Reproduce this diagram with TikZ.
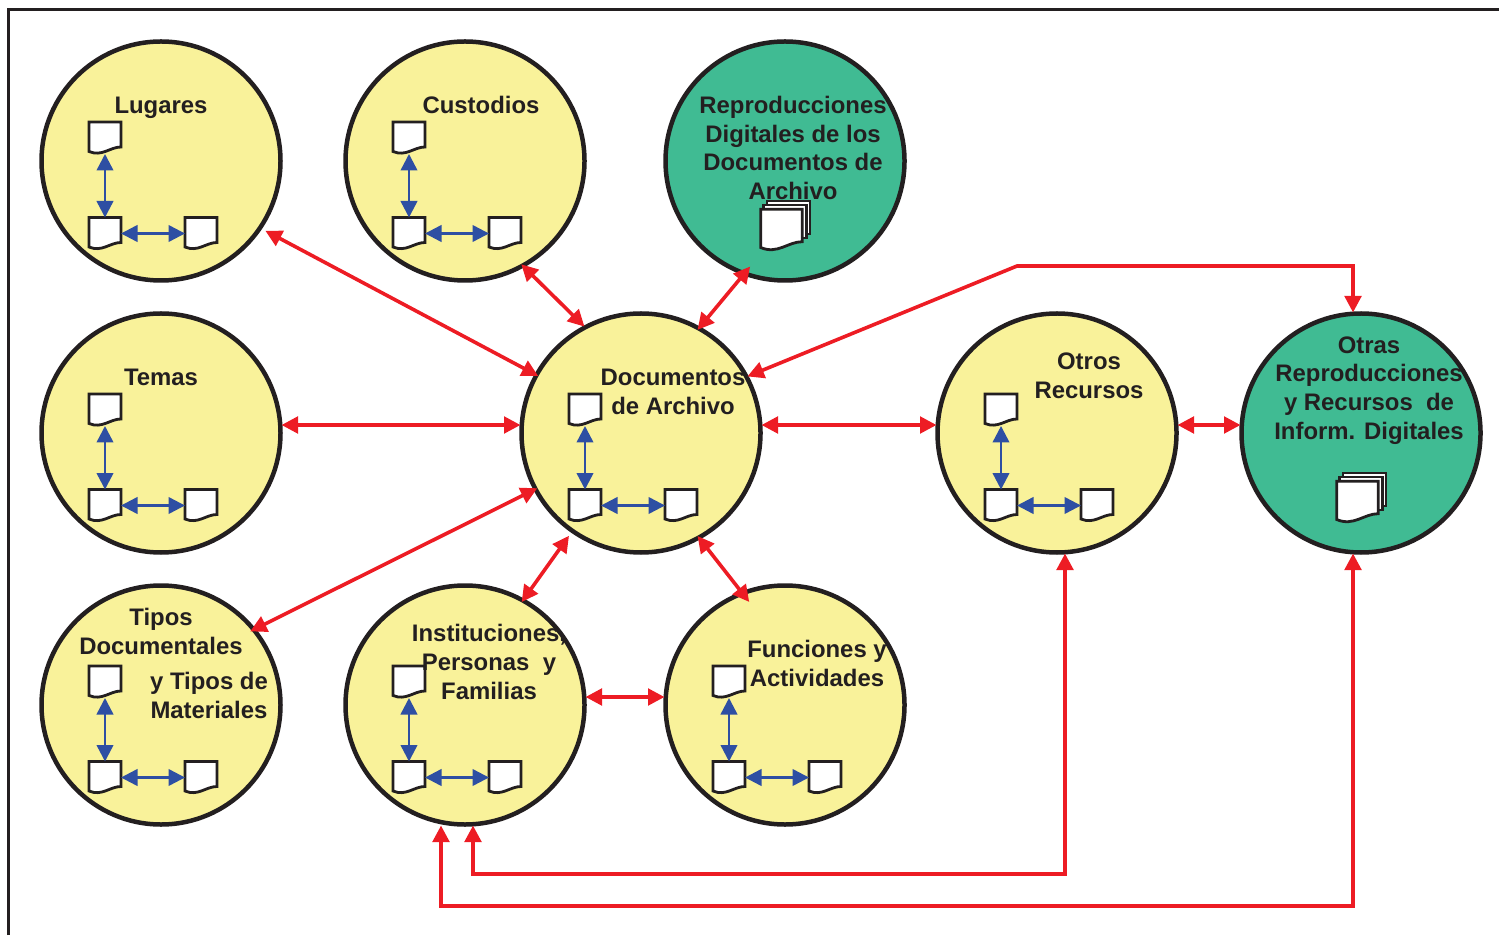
\documentclass[tikz,border=0pt]{standalone}
\usepackage{fontspec}
\setmainfont{Liberation Sans}
\usepackage{xcolor}
\usetikzlibrary{calc, arrows.meta}
\definecolor{circleyellow}{HTML}{F9F29A}
\definecolor{circlegreen}{HTML}{40BB93}
\definecolor{linkred}{HTML}{ED1C24}
\definecolor{linkblue}{HTML}{2E4FA3}
\definecolor{inkblack}{HTML}{231F20}
\tikzset{
    topic/.style = {circle, draw=inkblack, line width=.045cm, fill=circleyellow, minimum size=2.39cm, inner sep=0pt, outer sep=.01cm},
    repro/.style = {topic, fill=circlegreen},
    docnode/.style = {inner sep=0pt, outer sep=0pt},
    docline/.style = {draw=inkblack, fill=white, line width=.028cm, line join=miter},
    stackbox/.style = {docline, minimum width=.43cm, minimum height=.33cm, inner sep=0pt},
    bluelink/.style = {draw=linkblue, line width=.025cm, {Triangle[length=.165cm,width=.165cm]}-{Triangle[length=.165cm,width=.165cm]}},
    redlink/.style = {draw=linkred, line width=.036cm, line join=miter, {Triangle[length=.165cm,width=.165cm]}-{Triangle[length=.165cm,width=.165cm]}},
    caption/.style = {align=center, inner sep=0pt, text=inkblack, font=\fontsize{6.8}{8.2}\selectfont\bfseries}
}
% one sheet: name, position, size factor
\newcommand{\docsheet}[3]{
    \node [docnode, minimum width=.32cm*#3, minimum height=.32cm*#3] (#1) at (#2) {};
    \draw [docline] (#1.north west) -- (#1.north east) -- ($(#1.south east)+(0,.07*#3)$)
        .. controls ($(#1.south)+(.05*#3,.07*#3)$) and ($(#1.south)+(-.03*#3,-.03*#3)$) .. ($(#1.south west)+(0,.025*#3)$) -- cycle;
}
% three sheets with their links
\newcommand{\docgroup}[1]{
    \docsheet{#1top}{$(#1)+(-.56,.23)$}{1}
    \docsheet{#1left}{$(#1)+(-.56,-.725)$}{1}
    \docsheet{#1right}{$(#1)+(.40,-.725)$}{1}
    \draw [bluelink] (#1top.south) -- (#1left.north);
    \draw [bluelink] (#1left.east) -- (#1right.west);
}
% pile of sheets
\newcommand{\docstack}[1]{
    \node [stackbox] (#1back) at ($(#1)+(.035,-.565)$) {};
    \node [stackbox] (#1mid) at ($(#1)+(0,-.605)$) {};
    \docsheet{#1front}{$(#1)+(-.035,-.69)$}{1.3}
}

\begin{document}
\begin{tikzpicture}
    \useasboundingbox (0,0) rectangle (14.99,9.35);

    \coordinate (frameA) at (.09,0);
    \coordinate (frameB) at (.09,9.25);
    \coordinate (frameC) at (14.99,9.25);
    \draw [draw=inkblack, line width=.03cm] (frameA) -- (frameB) -- (frameC);

    \node [topic] (lugares) at (1.61,7.74) {};
    \node [topic] (custodios) at (4.65,7.74) {};
    \node [repro] (digitales) at (7.85,7.74) {};
    \node [topic] (temas) at (1.61,5.02) {};
    \node [topic] (documentos) at (6.41,5.02) {};
    \node [topic] (otros) at (10.57,5.02) {};
    \node [repro] (otras) at (13.61,5.02) {};
    \node [topic] (tipos) at (1.61,2.30) {};
    \node [topic] (instituciones) at (4.65,2.30) {};
    \node [topic] (funciones) at (7.85,2.30) {};

    \foreach \name in {lugares,custodios,temas,documentos,otros,tipos,instituciones,funciones}
        {\docgroup{\name}}
    \foreach \name in {digitales,otras}
        {\docstack{\name}}

    \coordinate (bendA) at (10.17,6.69);
    \coordinate (bendB) at (13.53,6.69);
    \coordinate (bendC) at (4.73,.61);
    \coordinate (bendD) at (10.65,.61);
    \coordinate (bendE) at (4.41,.29);
    \coordinate (bendF) at (13.53,.29);
    \coordinate (rowA) at (0,5.10);
    \coordinate (rowB) at (0,2.38);

    \draw [redlink, shorten <=.05cm, shorten >=-.03cm] (lugares.-34.8) -- (documentos.151.3);
    \draw [redlink, shorten <=-.03cm] (custodios.-61.1) -- (documentos.118.5);
    \draw [redlink, shorten <=-.10cm, shorten >=-.03cm] (digitales.-110.7) -- (documentos.61.5);
    \draw [redlink] (documentos.28.5) -- (bendA) -- (bendB) -- (bendB |- otras.north);
    \draw [redlink] (rowA -| temas.east) -- (rowA -| documentos.west);
    \draw [redlink] (rowA -| documentos.east) -- (rowA -| otros.west);
    \draw [redlink] (rowA -| otros.east) -- (rowA -| otras.west);
    \draw [redlink, shorten <=-.05cm, shorten >=-.03cm] (tipos.39) -- (documentos.208.7);
    \draw [redlink, shorten <=-.03cm, shorten >=.05cm] (instituciones.61.5) -- (documentos.235.8);
    \draw [redlink, shorten <=-.12cm, shorten >=-.03cm] (funciones.111) -- (documentos.-61.7);
    \draw [redlink] (rowB -| instituciones.east) -- (rowB -| funciones.west);
    \draw [redlink] (bendC |- instituciones.south) -- (bendC) -- (bendD) -- (bendD |- otros.south);
    \draw [redlink] (bendE |- instituciones.south) -- (bendE) -- (bendF) -- (bendF |- otras.south);

    \node [caption] (lugarestext) at (1.61,8.27) {Lugares};
    \node [caption] (custodiostext) at (4.81,8.30) {Custodios};
    \node [caption] (digitalestext) at (7.93,7.87) {Reproducciones\\Digitales de los\\Documentos de\\Archivo};
    \node [caption] (temastext) at (1.61,5.58) {Temas};
    \node [caption] (documentostext) at (6.73,5.435) {Documentos\\de Archivo};
    \node [caption] (otrostext) at (10.89,5.595) {Otros\\Recursos};
    \node [caption] (otrastext) at (13.69,5.445) {Otras\\Reproducciones\\y Recursos~ de\\Inform. Digitales};
    \node [caption] (tipostext) at (1.61,3.035) {Tipos\\Documentales};
    \node [caption] (materialestext) at (2.09,2.395) {y Tipos de\\Materiales};
    \node [caption] (institucionestext) at (4.89,2.73) {Instituciones,\\Personas~ y\\Familias};
    \node [caption] (funcionestext) at (8.17,2.715) {Funciones y\\Actividades};
\end{tikzpicture}
\end{document}
